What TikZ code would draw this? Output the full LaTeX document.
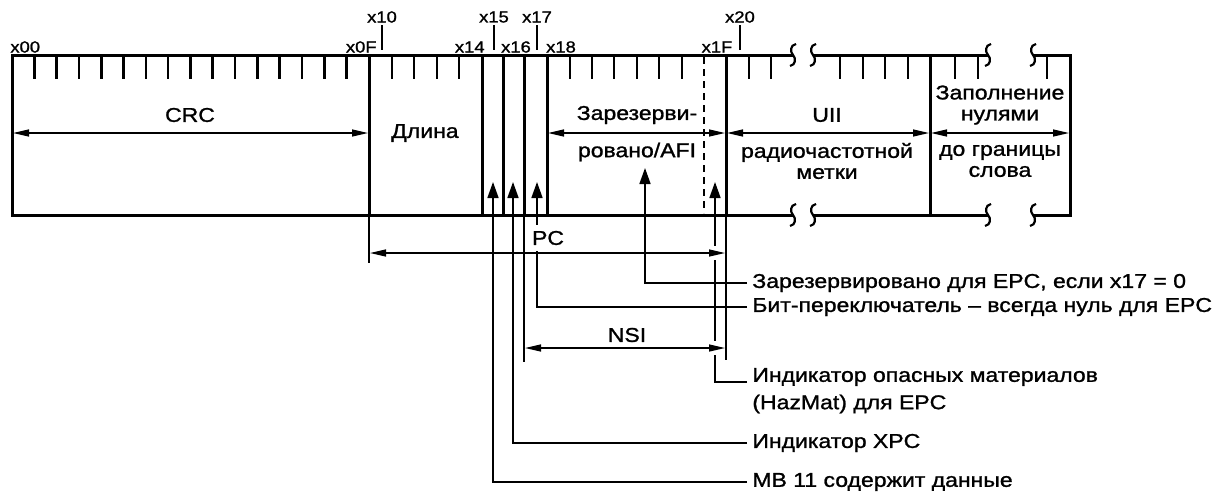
\documentclass[tikz,border=0pt]{standalone}
\usepackage{fontspec}
\setmainfont{Liberation Sans}[FakeStretch=1.15,FakeBold=1.2]
\usetikzlibrary{arrows.meta}
\tikzset{
  brk/.pic={\draw[line width=1.1pt] (3,-11) .. controls (-3,-10) and (-3,-3) .. (0,0) .. controls (3,3) and (3,10) .. (-3,11);},
  boxline/.style={line width=1.5pt},
  tickline/.style={line width=1.3pt},
  extline/.style={line width=0.7pt},
  dimarrow/.style={line width=0.7pt,{Triangle[length=8pt,width=3.5pt]}-{Triangle[length=8pt,width=3.5pt]}},
  uparrow/.style={line width=0.8pt,-{Triangle[length=8pt,width=5.5pt]}},
  lbl/.style={font=\fontsize{10}{10.5}\selectfont,inner sep=0pt,align=center},
  sml/.style={font=\fontsize{8}{9}\selectfont,inner sep=0pt},
  notetxt/.style={font=\fontsize{10}{10.5}\selectfont,inner sep=2.5pt,anchor=west},
}
\begin{document}
\begin{tikzpicture}[x=0.5pt,y=-0.5pt]
\useasboundingbox (0,0) rectangle (1220,494);
% outline
\draw[boxline,line join=miter] (793,55) -- (12,55) -- (12,215) -- (793,215);
\draw[boxline] (813,55) -- (988,55);
\draw[boxline] (813,215) -- (988,215);
\draw[boxline,line join=miter] (1033,55) -- (1070,55) -- (1070,215) -- (1033,215);
\foreach \x in {793,813,988,1033} {
  \pic at (\x,55) {brk};
  \pic at (\x,215) {brk};
}
% ticks
\foreach \k in {1,...,15} \draw[tickline] (12+22.31*\k,55) -- ++(0,24);
\foreach \x in {392,414,437,459,570,592,614,637,659,682,749,771,840,863,885,908,955,978,1047}
  \draw[tickline] (\x,55) -- ++(0,24);
% field boundaries
\foreach \x in {369,482,503,524,547,726,930} \draw[boxline] (\x,55) -- (\x,215);
\draw[line width=1pt,dash pattern=on 3.5pt off 2.5pt] (704,57) -- (704,213);
% bit labels
\node[sml,anchor=west] (l00) at (10,47) {x00};
\node[sml,anchor=east] (l0F) at (377,47) {x0F};
\node[sml] (l10) at (382,17) {x10};
\node[sml,anchor=east] (l14) at (485,47) {x14};
\node[sml] (l15) at (494,17) {x15};
\node[sml] (l16) at (516,47) {x16};
\node[sml] (l17) at (537,17) {x17};
\node[sml] (l18) at (561,47) {x18};
\node[sml] (l1F) at (717,47) {x1F};
\node[sml] (l20) at (740,17) {x20};
\foreach \x in {382,494,537,740} \draw[line width=0.6pt] (\x,25) -- (\x,50);
% field texts
\node[lbl] (crc) at (190,115) {CRC};
\node[lbl] (len) at (425,133) {Длина};
\node[lbl] (afi1) at (637,115) {Зарезерви-};
\node[lbl] (afi2) at (637,152) {ровано/AFI};
\node[lbl] (uii1) at (827,115) {UII};
\node[lbl] (uii2) at (827,161) {радиочастотной\\метки};
\node[lbl] (fil1) at (1000,105) {Заполнение\\нулями};
\node[lbl] (fil2) at (1000,161) {до границы\\слова};
% in-box dimension arrows
\draw[dimarrow] (13,133) -- (368,133);
\draw[dimarrow] (548,133) -- (725,133);
\draw[dimarrow] (727,133) -- (929,133);
\draw[dimarrow] (931,133) -- (1069,133);
% extension lines
\draw[extline] (369,215) -- (369,263);
\draw[extline] (726,215) -- (726,360);
\draw[extline] (524,215) -- (524,362);
% tip coordinates
\coordinate (t15) at (493,182);
\coordinate (t16) at (513,182);
\coordinate (t17) at (537,182);
\coordinate (tres) at (645,168);
\coordinate (t1F) at (715,182);
\coordinate (hzend) at (747,382);
% notes
\node[notetxt] (res) at (747,283) {Зарезервировано для EPC, если x17 = 0};
\node[notetxt] (tog) at (747,307) {Бит-переключатель – всегда нуль для EPC};
\node[notetxt] (hz1) at (747,377) {Индикатор опасных материалов};
\node[notetxt] (hz2) at (747,404) {(HazMat) для EPC};
\node[notetxt] (xpc) at (747,443) {Индикатор XPC};
\node[notetxt] (mb) at (747,482) {MB 11 содержит данные};
\draw[uparrow] (res.west) -| (tres);
\draw[uparrow] (tog.west) -| (t17);
\draw[uparrow] (hzend) -| (t1F);
\draw[uparrow] (xpc.west) -| (t16);
\draw[uparrow] (mb.west) -| (t15);
% gaps near arrowheads
\fill[white] (711,246) rectangle (719,260);
\fill[white] (711,341) rectangle (719,355);
% PC and NSI
\node[lbl,fill=white,inner xsep=1pt,inner ysep=3pt] (pc) at (548,238) {PC};
\draw[dimarrow] (370,253) -- (725,253);
\node[lbl] (nsi) at (627,335) {NSI};
\draw[dimarrow] (525,348) -- (725,348);
\end{tikzpicture}
\end{document}
